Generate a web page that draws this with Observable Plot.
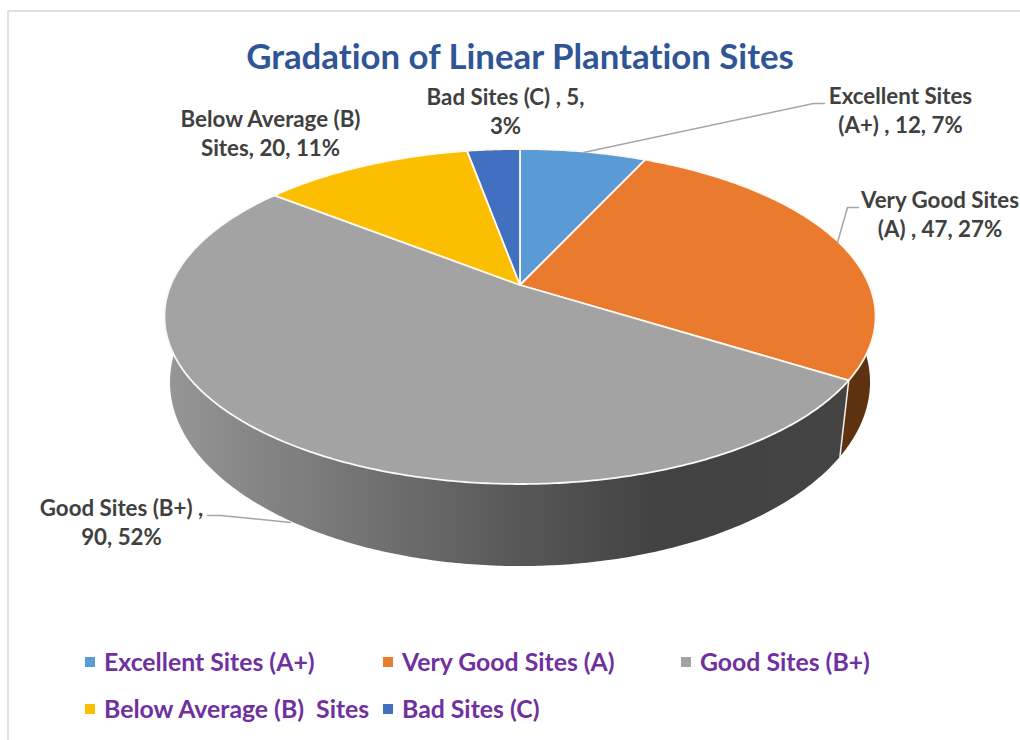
<!DOCTYPE html>
<html>
<head>
<meta charset="utf-8">
<script src="https://cdn.jsdelivr.net/npm/d3@7"></script>
<script src="https://cdn.jsdelivr.net/npm/@observablehq/plot@0.6"></script>
<style>
  html, body { margin: 0; padding: 0; background: #fff; overflow: hidden; }
  body { width: 1020px; height: 740px; position: relative; font-family: Lato, sans-serif; font-weight: 700; font-variant-ligatures: none; }
  svg text { font-variant-ligatures: none; }
  #frame { position: absolute; left: 7px; top: 10px; width: 1100px; height: 800px; border: 2px solid #e1e1e1; box-sizing: border-box; pointer-events: none; }
  #title { position: relative; width: 1020px; height: 80px; box-sizing: border-box; padding: 36px 0 0 20px; margin: 0; text-align: center; color: #2f5597; font-size: 34.8px; line-height: 40px; font-weight: 700; }
  #chart { position: relative; height: 560px; width: 1020px; }
  #chart svg { display: block; overflow: hidden; }
  #legend { position: relative; height: 100px; width: 1020px; color: #7030a0; font-size: 24.8px; }
  .item { position: absolute; white-space: pre; line-height: 28px; }
  .item i { position: absolute; left: -19px; top: 9px; width: 10px; height: 10px; }
</style>
</head>
<body>
<div id="frame"></div>
<h1 id="title">Gradation of Linear Plantation Sites</h1>
<div id="chart"></div>
<div id="legend"></div>
<script>
// Data
const categories = ["Excellent Sites (A+)", "Very Good Sites (A)", "Good Sites (B+)", "Below Average (B)  Sites", "Bad Sites (C)"];
const values = [12, 47, 90, 20, 5];
const colors = ["#5b9bd5", "#ea7b2e", "#a3a3a3", "#fbbe00", "#4170c0"];
const dataLabels = [
  "Excellent Sites\n(A+) , 12, 7%",
  "Very Good Sites\n(A) , 47, 27%",
  "Good Sites (B+) ,\n90, 52%",
  "Below Average (B)\nSites, 20, 11%",
  "Bad Sites (C) , 5,\n3%"
];

// Layout of labels, leaders and legend (page pixels), separate from the data
const labelX = [900, 939.5, 121, 270, 505];
const labelY = [108.5, 212.5, 520.5, 131.5, 109.5];
const leaders = [
  [[583, 152], [813, 103], [824, 103]],
  [[837, 242], [847, 207], [858, 207]],
  [[290, 522], [220, 515], [207, 515]],
];
const legendX = [104, 402, 700, 104, 402];
const legendY = [8, 8, 8, 55, 55];

// Perspective pie: an angle round the disc maps to the page through a projective ring
const topRing = {cx: 519.5, cy: 284.5, a: 349.2, b: 161.6, k: 0.188};
const baseRing = {cx: 519.5, cy: 352.1, a: 345.5, b: 179.3, k: 0.16};
function project(ring, t) {
  const u = Math.sin(t), v = -Math.cos(t), d = 1 - ring.k * v;
  return {x: ring.cx + u * ring.a / d, y: ring.cy + v * ring.b / d};
}
function arcAngles(t0, t1) {
  const n = Math.max(2, Math.ceil(Math.abs(t1 - t0) / 0.01));
  return d3.range(n + 1).map(i => t0 + (t1 - t0) * i / n);
}
const total = d3.sum(values);
let acc = 0;
const angles = values.map(v => {
  const start = acc; acc += v;
  return [start / total * 2 * Math.PI, acc / total * 2 * Math.PI];
});
const slicePolys = angles.map(([a0, a1]) => {
  const c = {x: topRing.cx, y: topRing.cy};
  return [c, ...arcAngles(a0, a1).map(t => project(topRing, t)), c];
});
function wall(t0, t1) {
  const ts = arcAngles(t0, t1);
  const pts = [...ts.map(t => project(topRing, t)), ...ts.slice().reverse().map(t => project(baseRing, t))];
  return [...pts, pts[0]];
}
const rad = d => d * Math.PI / 180;
const orangeWall = wall(rad(75), angles[1][1]);
const greyWall = wall(angles[1][1], rad(285));

const defs = () => {
  const d = d3.create("svg:defs");
  const g = d.append("linearGradient").attr("id", "greyWall");
  [[0, "#979797"], [0.18, "#808080"], [0.38, "#686868"], [0.52, "#575757"], [0.72, "#424242"], [1, "#444444"]]
    .forEach(([o, c]) => g.append("stop").attr("offset", o).attr("stop-color", c));
  const h = d.append("linearGradient").attr("id", "orangeWall");
  [[0, "#5e3210"], [1, "#5e3210"]]
    .forEach(([o, c]) => h.append("stop").attr("offset", o).attr("stop-color", c));
  return d.node();
};

const poly = (pts, o) => Plot.line(pts, {x: "x", y: "y", curve: "linear", strokeLinejoin: "round", ...o});
const chart = Plot.plot({
  width: 1020, height: 560,
  margin: 0,
  style: {background: "transparent", fontFamily: "Lato, sans-serif"},
  x: {domain: [0, 1020], range: [0, 1020], axis: null},
  y: {domain: [80, 640], range: [0, 560], axis: null},
  marks: [
    defs,
    poly(orangeWall, {fill: "url(#orangeWall)", stroke: "none"}),
    poly(greyWall, {fill: "url(#greyWall)", stroke: "none"}),
    Plot.line([project(topRing, angles[1][1]), project(baseRing, angles[1][1])], {x: "x", y: "y", stroke: "#f4f0ea", strokeWidth: 1.5}),
    ...slicePolys.map((pts, i) => poly(pts, {fill: colors[i], stroke: "#fdf8f0", strokeWidth: 1.8})),
    ...leaders.map(l => Plot.line(l, {x: d => d[0], y: d => d[1], stroke: "#a6a6a6", strokeWidth: 1.5})),
    Plot.text(dataLabels, {
      x: (d, i) => labelX[i], y: (d, i) => labelY[i], text: d => d,
      fontSize: 22.3, fontWeight: 700, fill: "#404040", lineHeight: 1.3, textAnchor: "middle", lineAnchor: "middle"
    }),
  ]
});
document.getElementById("chart").appendChild(chart);

const legend = d3.select("#legend");
categories.forEach((c, i) => {
  const it = legend.append("div").attr("class", "item").style("left", legendX[i] + "px").style("top", legendY[i] + "px");
  it.append("i").style("background", colors[i]);
  it.append("span").text(c);
});
</script>
</body>
</html>
